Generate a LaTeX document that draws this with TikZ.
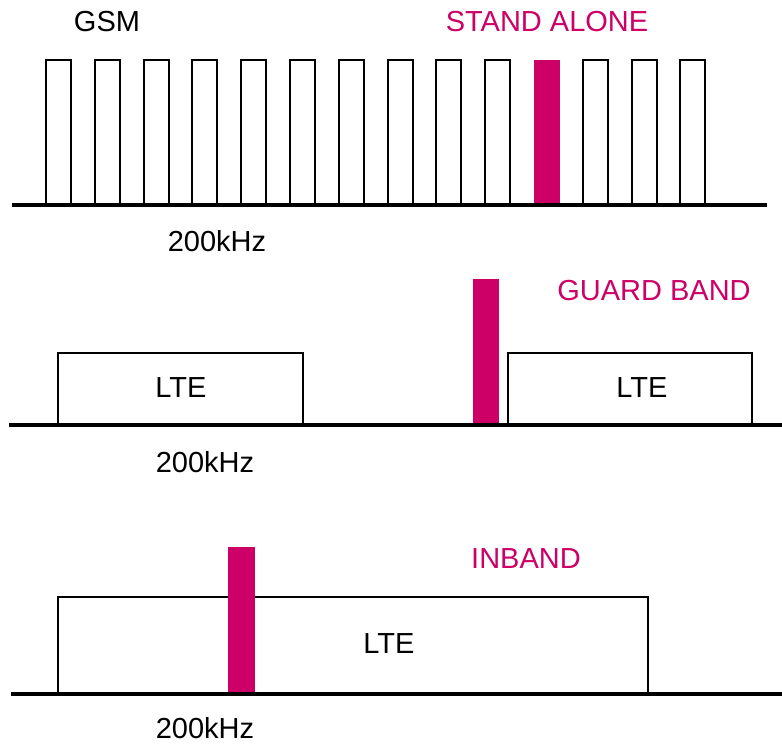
\documentclass[tikz,border=0pt]{standalone}
\usepackage{fontspec}
\setmainfont{Liberation Sans}
\definecolor{nbmag}{RGB}{204,0,102}

\begin{document}
\begin{tikzpicture}[x=1pt,y=-1pt,
  lbl/.style={font=\fontsize{29}{33}\selectfont,inner sep=1pt},
  mlbl/.style={lbl,text=nbmag},
  carrier/.style={draw=black,line width=2pt},
  axis/.style={line width=4pt}]
  \useasboundingbox (0,0) rectangle (782,744);

  % stand alone: GSM carriers on a 200kHz raster
  \foreach \k in {0,...,9,11,12,13} {
    \pgfmathsetmacro{\xl}{46+48.8*\k}
    \draw[carrier] (\xl,60) rectangle ({\xl+25},205);
  }
  \fill[nbmag] (534,60) rectangle (560,205);
  \draw[axis] (12,205) -- (767,205);
  \node[lbl]  (gsm)   at (107,22)  {GSM};
  \node[mlbl] (sa)    at (547,22)  {STAND ALONE};
  \node[lbl]  (khzA)  at (217,241) {200kHz};

  % guard band: carrier between two LTE blocks
  \draw[carrier] (58,425) rectangle (303,353);
  \draw[carrier] (508,425) rectangle (752,353);
  \fill[nbmag] (473,279) rectangle (499,425);
  \draw[axis] (9,425) -- (782,425);
  \node[lbl]  (lteL)  at (181,388) {LTE};
  \node[lbl]  (lteR)  at (642,388) {LTE};
  \node[mlbl] (gb)    at (654,291) {GUARD BAND};
  \node[lbl]  (khzB)  at (205,462) {200kHz};

  % inband: carrier inside the LTE block
  \draw[carrier] (58,694) rectangle (648,597);
  \fill[nbmag] (228,547) rectangle (255,694);
  \draw[axis] (11,694) -- (782,694);
  \node[lbl]  (lteI)  at (389,644) {LTE};
  \node[mlbl] (ib)    at (526,559) {INBAND};
  \node[lbl,inner sep=0pt] (khzC) at (205,728) {200kHz};
\end{tikzpicture}
\end{document}
